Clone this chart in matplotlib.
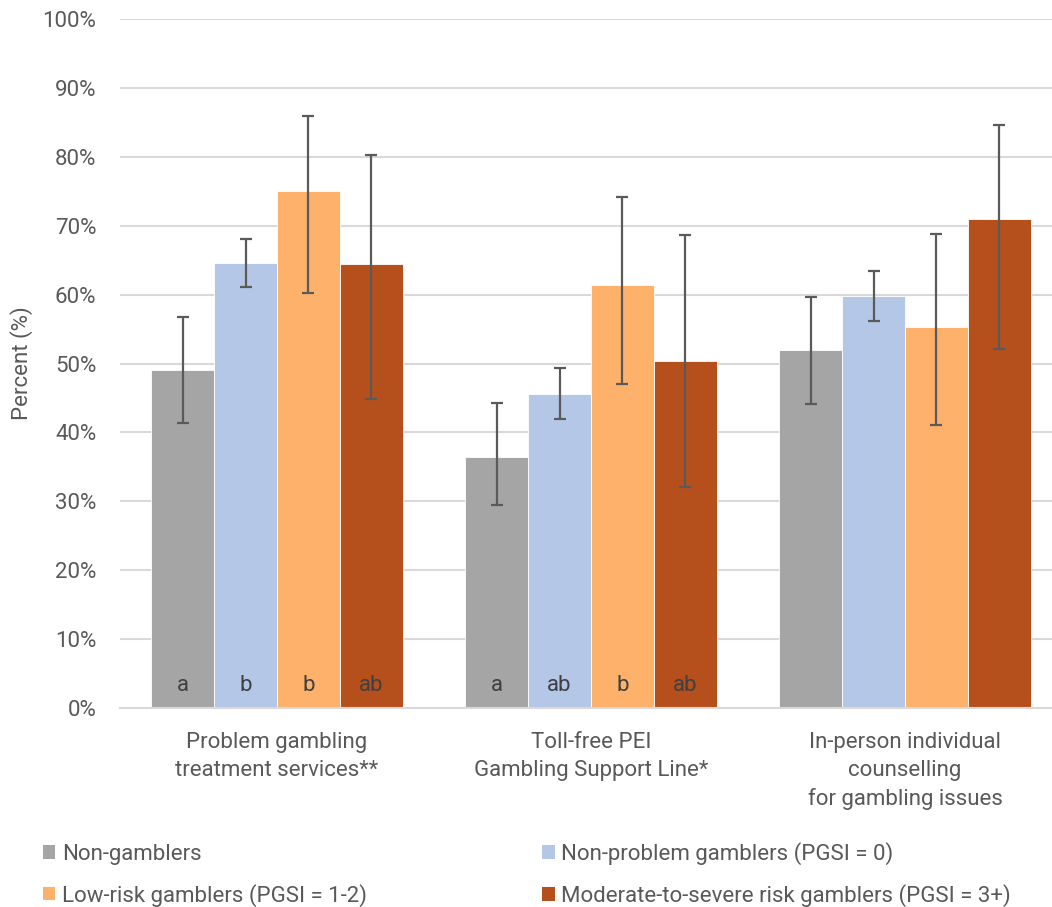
import matplotlib.pyplot as plt
from matplotlib.patches import Patch
import numpy as np

categories = [
    "Problem gambling\ntreatment services**",
    "Toll-free PEI\nGambling Support Line*",
    "In-person individual\ncounselling\nfor gambling issues",
]
series = [
    "Non-gamblers",
    "Non-problem gamblers (PGSI = 0)",
    "Low-risk gamblers (PGSI = 1-2)",
    "Moderate-to-severe risk gamblers (PGSI = 3+)",
]
colors = ["#A5A5A5", "#B4C7E7", "#FDB16B", "#B54F1C"]

# percent values, one list per series (across the three categories)
values = [
    [49.0, 36.4, 52.0],
    [64.6, 45.6, 59.8],
    [75.1, 61.4, 55.3],
    [64.5, 50.4, 70.9],
]
ci_low = [
    [41.4, 29.4, 44.1],
    [61.1, 42.0, 56.2],
    [60.2, 47.0, 41.1],
    [44.8, 32.1, 52.1],
]
ci_high = [
    [56.7, 44.2, 59.7],
    [68.1, 49.3, 63.4],
    [85.9, 74.1, 68.8],
    [80.3, 68.7, 84.6],
]
sig_letters = [
    ["a", "a", ""],
    ["b", "ab", ""],
    ["b", "b", ""],
    ["ab", "ab", ""],
]

plt.rcParams['font.family'] = ['Roboto', 'DejaVu Sans']
TXT = "#595959"
FS = 16

fig = plt.figure(figsize=(10.52, 9.07), dpi=100)
ax = fig.add_axes([120 / 1052, 1 - 708 / 907, 932 / 1052, 689 / 907])

x = np.arange(len(categories))
w = 0.2
for i in range(len(series)):
    pos = x + (i - 1.5) * w
    v = np.array(values[i])
    err = [v - np.array(ci_low[i]), np.array(ci_high[i]) - v]
    ax.bar(pos, v, width=w, color=colors[i], edgecolor="white", linewidth=0.6, zorder=2)
    ax.errorbar(pos, v, yerr=err, fmt="none", ecolor="#5A5A5A", elinewidth=1.6,
                capsize=4.5, capthick=1.6, zorder=3)
    for p, s in zip(pos, sig_letters[i]):
        if s:
            ax.text(p, 3.3, s, ha="center", va="center", fontsize=FS, color="#404040", zorder=4)

ax.set_xlim(-0.5, -0.5 + 932 / 314)
ax.set_ylim(0, 100)
ax.set_yticks(np.arange(0, 101, 10))
ax.set_yticklabels([f"{t}%" for t in range(0, 101, 10)], fontsize=FS, color=TXT)
ax.set_xticks(x)
ax.set_xticklabels(categories, fontsize=FS, color=TXT, linespacing=1.45, va="top")
ax.tick_params(axis="both", length=0)
ax.tick_params(axis="y", pad=17)
ax.tick_params(axis="x", pad=17)
ax.grid(axis="y", color="#D9D9D9", linewidth=1.5, zorder=0)
ax.set_axisbelow(True)
for side in ["top", "right", "left"]:
    ax.spines[side].set_visible(False)
ax.spines["bottom"].set_color("#D9D9D9")
ax.spines["bottom"].set_linewidth(1.5)
ax.set_ylabel("Percent (%)", fontsize=FS, color=TXT)
ax.yaxis.set_label_coords(-0.093, 0.5)

handles = [Patch(facecolor=c) for c in colors]
order = [0, 2, 1, 3]
fig.legend([handles[k] for k in order], [series[k] for k in order],
           loc="upper left", bbox_to_anchor=(23 / 1052, 1 - 822 / 907), ncol=2,
           frameon=False, fontsize=FS, labelcolor=TXT, handlelength=0.55,
           handleheight=0.55, handletextpad=0.3, columnspacing=7.9, labelspacing=0.85)

fig.savefig("out.png", dpi=100)
